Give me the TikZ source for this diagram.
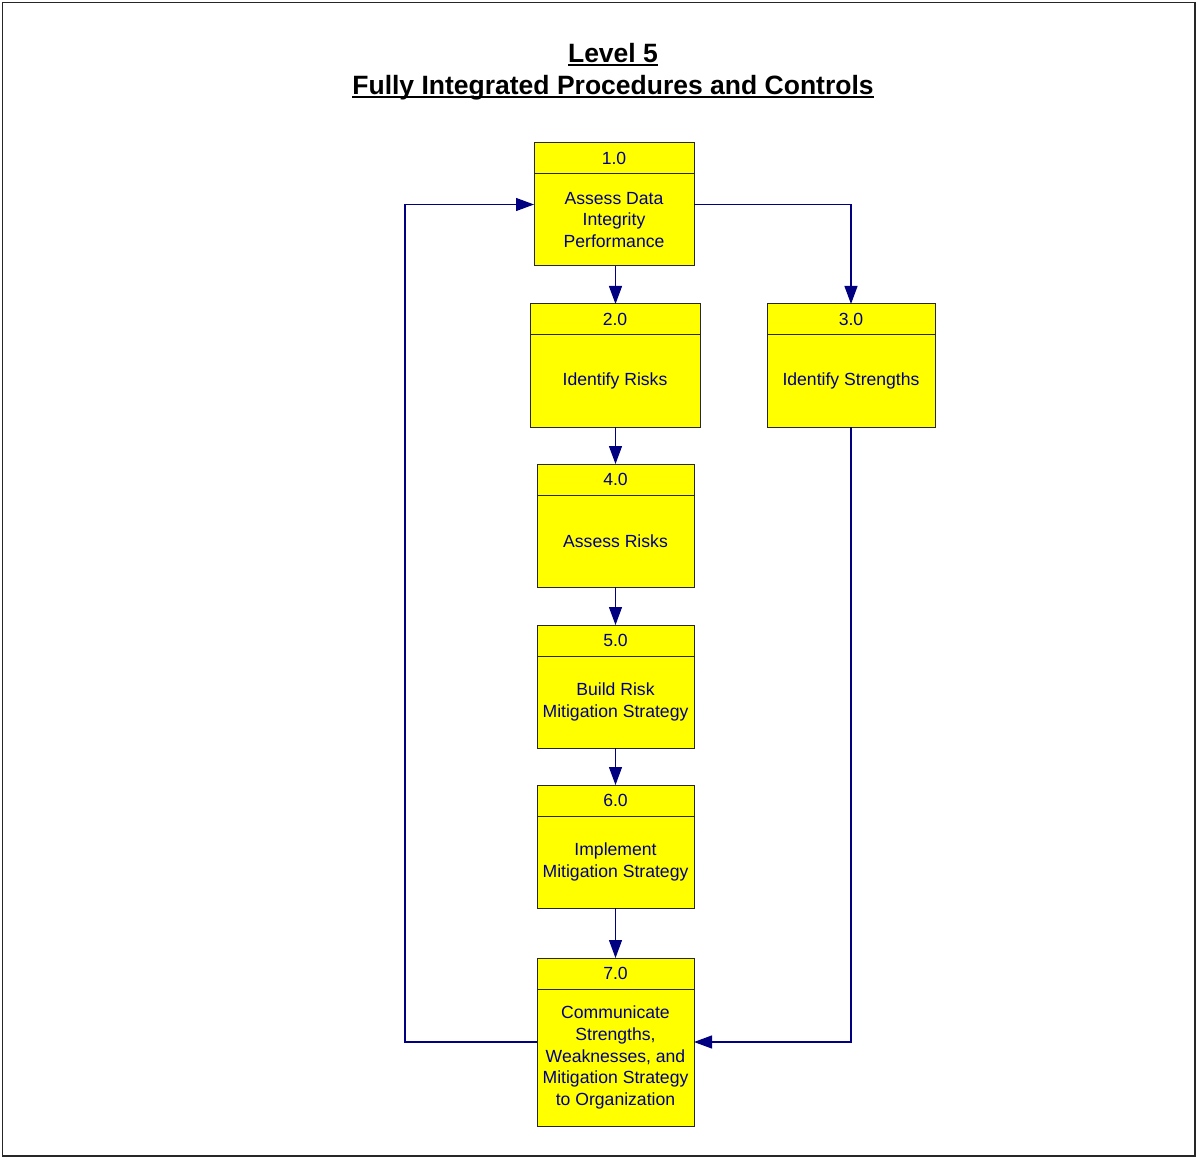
\documentclass[tikz,border=0pt]{standalone}
\usepackage{fontspec}
\setmainfont{Liberation Sans}
\usetikzlibrary{arrows.meta}
\definecolor{flowblue}{RGB}{0,0,128}
\definecolor{boxedge}{RGB}{40,40,40}
\definecolor{boxfill}{RGB}{255,255,0}

% underline drawn just below the baseline, crossing the descenders
\newcommand\titleul[1]{\setbox0\hbox{#1}\rlap{\rule[-3.2pt]{\wd0}{1.8pt}}\box0}

% process box: name, left, top, right, bottom, number, label
\newcommand\procbox[7]{%
  \node[procbox, minimum width={#4-#2}, minimum height={#5-#3}]
    (#1) at ({(#2+#4)/2},{(#3+#5)/2}) {};
  \draw[boxline] (#2,#3+31) -- (#4,#3+31);
  \node[numtext] (#1num) at ({(#2+#4)/2},#3+15) {#6};
  \node[bodytext] (#1txt) at ({(#2+#4)/2},{(#3+31+#5)/2}) {#7};
}

\begin{document}
\begin{tikzpicture}[x=1pt,y=-1pt,
  procbox/.style={draw=boxedge, fill=boxfill, line width=1pt, inner sep=0pt, outer sep=0pt},
  boxline/.style={draw=boxedge, line width=1pt},
  numtext/.style={text=flowblue, font=\fontsize{17.6}{21.6}\selectfont, inner sep=0pt},
  bodytext/.style={text=flowblue, font=\fontsize{17.6}{21.7}\selectfont, align=center, inner sep=0pt},
  flow/.style={draw=flowblue, line width=1.2pt, -{Triangle[length=18pt,width=13pt]}},
  titletext/.style={font=\bfseries\fontsize{26.5}{32}\selectfont, align=center, inner sep=0pt}]

\useasboundingbox (0,0) rectangle (1197,1158);
\draw[line width=1.5pt, draw=black!85] (2.5,2.5) rectangle (1195,1156);

\node[titletext] (title) at (613,72) {\titleul{Level 5}\\\titleul{Fully Integrated Procedures and Controls}};

\procbox{b1}{534}{143}{694}{266}{1.0}{Assess Data\\Integrity\\Performance}
\procbox{b2}{530}{304}{700}{427}{2.0}{Identify Risks}
\procbox{b3}{767}{304}{935}{427}{3.0}{Identify Strengths}
\procbox{b4}{537}{464}{694}{587}{4.0}{Assess Risks}
\procbox{b5}{537}{625}{694}{748}{5.0}{Build Risk\\Mitigation Strategy}
\procbox{b6}{537}{785}{694}{908}{6.0}{Implement\\Mitigation Strategy}
\procbox{b7}{537}{958}{694}{1126}{7.0}{Communicate\\Strengths,\\Weaknesses, and\\Mitigation Strategy\\to Organization}

\coordinate (loop) at (405,1042);

\draw[flow] (b1.south -| b4.north) -- (b4.north |- b2.north);
\draw[flow] (b2.south -| b4.north) -- (b4.north);
\draw[flow] (b4.south) -- (b5.north);
\draw[flow] (b5.south) -- (b6.north);
\draw[flow] (b6.south) -- (b7.north);
\draw[flow] (b1.east) -| (b3.north);
\draw[flow] (b3.south) |- (b7.east);
\draw[flow] (b7.west) -- (loop) |- (b1.west);
\end{tikzpicture}
\end{document}
